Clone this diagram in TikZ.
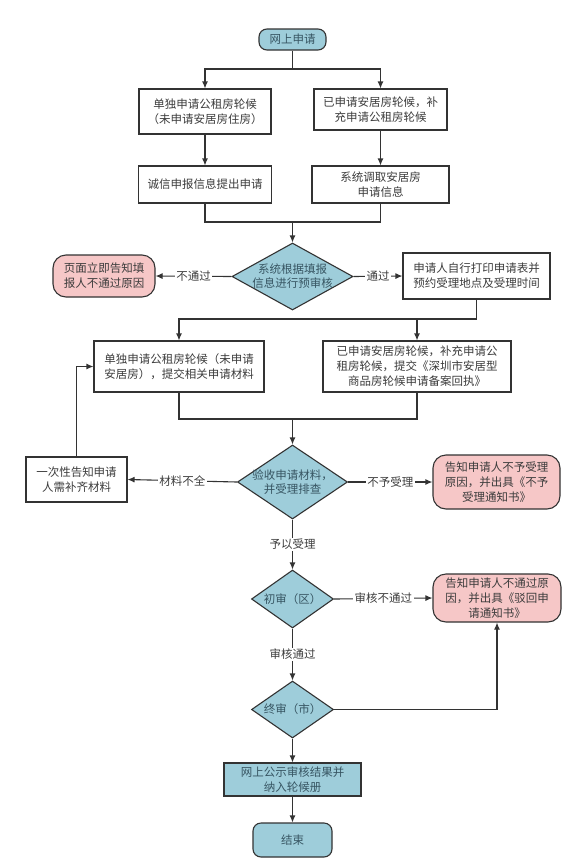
\documentclass[tikz,border=0pt]{standalone}
\usepackage{fontspec}
\setmainfont{Noto Sans CJK SC}
\usetikzlibrary{shapes.geometric,arrows.meta}
\definecolor{bl}{RGB}{158,205,218}
\definecolor{pk}{RGB}{246,199,199}
\definecolor{lncol}{RGB}{51,51,51}
\definecolor{tx}{RGB}{60,60,60}
\definecolor{txb}{RGB}{55,85,98}
\begin{document}
\begin{tikzpicture}[x=1pt,y=-1pt,
  base/.style={draw=lncol, line width=1.1pt, text=tx, font=\fontsize{11.5}{15}\selectfont, align=center, inner sep=0pt},
  box/.style={base, rectangle},
  rbox/.style={base, rounded corners=13pt, fill=pk},
  term/.style={base, rounded corners=8pt, fill=bl, text=txb},
  dia/.style={base, diamond, fill=bl},
  diatext/.style={text=txb, font=\fontsize{11.5}{14}\selectfont, align=center, inner sep=0pt},
  arr/.style={draw=lncol, line width=1.1pt, -{Latex[length=7pt,width=6pt]}},
  plain/.style={draw=lncol, line width=1.1pt},
  lbl/.style={fill=white, inner sep=1.5pt, text=tx, font=\fontsize{11.5}{14}\selectfont}
]
\useasboundingbox (0,0) rectangle (575,868);
\fill[white] (0,0) rectangle (575,868);

% nodes
\node[term, minimum width=67pt, minimum height=21pt] (start) at (292.5,39.5) {网上申请};
\node[box, minimum width=132pt, minimum height=45pt] (b1L) at (205,111.5) {单独申请公租房轮候\\（未申请安居房住房）};
\node[box, minimum width=133pt, minimum height=41pt] (b1R) at (380.5,109.5) {已申请安居房轮候，补\\充申请公租房轮候};
\node[box, minimum width=133pt, minimum height=37pt] (b2L) at (205,184.5) {诚信申报信息提出申请};
\node[box, minimum width=137pt, minimum height=37pt] (b2R) at (380.5,184.5) {系统调取安居房\\申请信息};

\node[dia, minimum width=121pt, minimum height=67pt,
  label={[diatext]center:{系统根据填报\\信息进行预审核}}] (d1) at (292.5,276.5) {};
\node[rbox, minimum width=102pt, minimum height=42pt] (redL) at (104,276) {页面立即告知填\\报人不通过原因};
\node[box, minimum width=147pt, minimum height=46pt] (bR) at (476.5,276) {申请人自行打印申请表并\\预约受理地点及受理时间};

\node[box, minimum width=170pt, minimum height=51pt, align=left] (L3) at (179,366.5) {单独申请公租房轮候（未申请\\安居房），提交相关申请材料};
\node[box, minimum width=188pt, minimum height=51pt] (R3) at (417,366.5) {已申请安居房轮候，补充申请公\\租房轮候，提交《深圳市安居型\\商品房轮候申请备案回执》};

\node[dia, minimum width=110pt, minimum height=74pt,
  label={[diatext]center:{验收申请材料，\\并受理排查}}] (d2) at (292.5,482) {};
\node[box, minimum width=101pt, minimum height=45pt] (lb) at (76.5,479.5) {一次性告知申请\\人需补齐材料};
\node[rbox, minimum width=127pt, minimum height=54pt] (red1) at (496.5,482) {告知申请人不予受理\\原因，并出具《不予\\受理通知书》};

\node[dia, minimum width=82pt, minimum height=58pt,
  label={[diatext]center:{初审（区）}}] (d3) at (292.5,599) {};
\node[rbox, minimum width=128pt, minimum height=48pt] (red2) at (497,598) {告知申请人不通过原\\因，并出具《驳回申\\请通知书》};

\node[dia, minimum width=82pt, minimum height=57pt,
  label={[diatext]center:{终审（市）}}] (d4) at (292.5,709.5) {};
\node[box, fill=bl, text=txb, minimum width=137pt, minimum height=33pt] (pub) at (292.5,779.5) {网上公示审核结果并\\纳入轮候册};
\node[term, minimum width=79pt, minimum height=34pt] (end) at (292.5,840) {结束};

% junction coordinates
\coordinate (s1) at (292.5,69);
\coordinate (m1) at (292.5,222);
\coordinate (s2) at (476.5,319);
\coordinate (m2) at (292.5,419);

% connectors
\draw[plain] (start.south) -- (s1);
\draw[arr] (s1) -| (b1L.north);
\draw[arr] (s1) -| (b1R.north);
\draw[arr] (b1L) -- (b2L);
\draw[arr] (b1R) -- (b2R);
\draw[plain] (b2L.south) |- (m1);
\draw[plain] (b2R.south) |- (m1);
\draw[arr] (m1) -- (d1.north);

\draw[arr] (d1.west) -- node[lbl]{不通过} (redL.east);
\draw[arr] (d1.east) -- node[lbl]{通过} (bR.west);

\draw[plain] (bR.south) -- (s2);
\draw[arr] (s2) -| (L3.north);
\draw[arr] (s2) -| (R3.north);
\draw[plain] (L3.south) |- (m2);
\draw[plain] (R3.south) |- (m2);
\draw[arr] (m2) -- (d2.north);

\draw[arr] (d2.west) -- node[lbl]{材料不全} (lb.east);
\draw[arr] (lb.north) |- (L3.west);
\draw[arr] (d2.east) -- node[lbl]{不予受理} (red1.west);
\draw[arr] (d2.south) -- node[lbl]{予以受理} (d3.north);

\draw[arr] (d3.east) -- node[lbl]{审核不通过} (red2.west);
\draw[arr] (d3.south) -- node[lbl]{审核通过} (d4.north);
\draw[arr] (d4.east) -| (red2.south);
\draw[arr] (d4.south) -- (pub.north);
\draw[arr] (pub.south) -- (end.north);
\end{tikzpicture}
\end{document}
